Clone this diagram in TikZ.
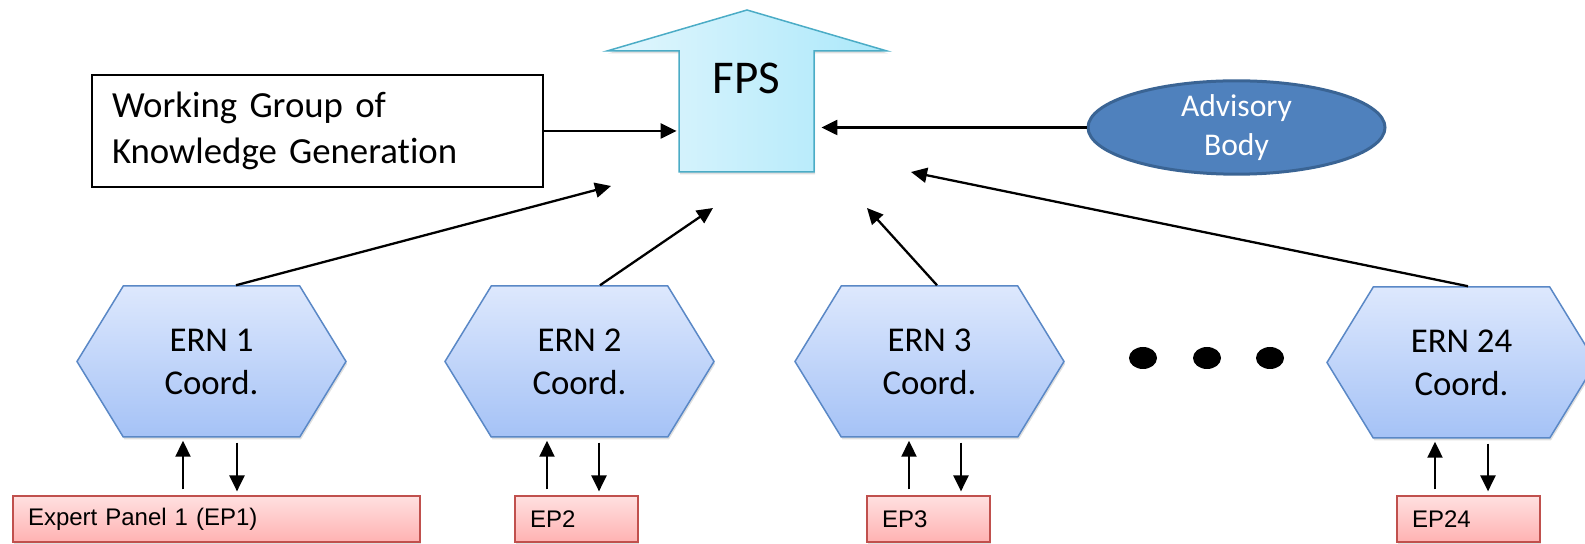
\documentclass[tikz,border=0pt]{standalone}
\usepackage{fontspec}
\setmainfont{Carlito}[Ligatures=NoCommon]
\newfontfamily\arialfont{Liberation Sans}
\usetikzlibrary{shapes.symbols,shapes.geometric,arrows.meta,shadows}

\definecolor{fpsleft}{HTML}{E2F6FD}
\definecolor{fpsright}{HTML}{ABE8FA}
\definecolor{fpsline}{HTML}{4BACC6}
\definecolor{erntop}{HTML}{DDE8FD}
\definecolor{ernbottom}{HTML}{A5C2F6}
\definecolor{ernline}{HTML}{5A88C6}
\definecolor{eptop}{HTML}{FFE0E0}
\definecolor{epbottom}{HTML}{FFB2B2}
\definecolor{epline}{HTML}{C0504D}
\definecolor{abfill}{HTML}{4F81BD}
\definecolor{abline}{HTML}{3A6494}

\begin{document}
\begin{tikzpicture}[x=0.5pt, y=-0.5pt,
  flow/.style={line width=1.15pt, -{Triangle[length=8pt, width=7.5pt]}},
  softshadow/.style={drop shadow={opacity=0.25, shadow xshift=0.6pt, shadow yshift=-1.2pt}},
  ern/.style={signal, signal to=west and east, signal pointer angle=117,
    minimum width=134.5pt, minimum height=75.5pt, inner sep=0pt,
    draw=ernline, line width=0.75pt, top color=erntop, bottom color=ernbottom,
    softshadow, align=center, font=\fontsize{17.4}{21.5}\selectfont},
  ep/.style={rectangle, draw=epline, line width=0.6pt, top color=eptop, bottom color=epbottom,
    minimum height=23pt, inner xsep=7.5pt, inner ysep=0pt, align=left,
    softshadow, font=\arialfont\fontsize{12}{14}\selectfont},
  dot/.style={ellipse, fill=black, minimum width=14pt, minimum height=11pt, inner sep=0pt}]

\clip (0,0) rectangle (1585,544);

% the big arrow
\path[draw=fpsline, line width=0.75pt, left color=fpsleft, right color=fpsright, softshadow]
  (679,172) -- (679,51) -- (607,51) -- (747,10) -- (887,51) -- (814,51) -- (814,172) -- cycle;
\node (fps) [minimum width=67.5pt, minimum height=60.5pt, inner sep=0pt,
  label={[font=\fontsize{23.5}{28}\selectfont, anchor=north, inner sep=0pt, yshift=-6pt]north:FPS}]
  at (746.5,111.5) {};

\node (wg) [draw, line width=0.6pt, minimum width=225.5pt, minimum height=56pt,
  text width=205.5pt, inner xsep=10pt, align=left, font=\fontsize{18.4}{23}\selectfont]
  at (317.5,131) {Working Group of\\Knowledge Generation};

\node (ab) [ellipse, fill=abfill, draw=abline, line width=1.5pt, minimum width=148.5pt,
  minimum height=44.5pt, inner sep=0pt, text=white, align=center,
  font=\fontsize{15.8}{19.5}\selectfont] at (1236.5,127.5) {Advisory\\Body};

\draw[flow, shorten >=1pt] (wg.east) -- (wg.east -| fps.west);
\draw[flow, shorten >=3.5pt] (ab.west) -- (ab.west -| fps.east);

% coordinators
\node (ern1) [ern] at (211.5,361.5) {ERN 1\\Coord.};
\node (ern2) [ern] at (579.5,361.5) {ERN 2\\Coord.};
\node (ern3) [ern] at (929.5,361.5) {ERN 3\\Coord.};
\node (ern24) [ern] at (1461.5,362.5) {ERN 24\\Coord.};

\node (dot1) [dot] at (1143,358) {};
\node (dot2) [dot] at (1207,358) {};
\node (dot3) [dot] at (1270,358) {};

% expert panels
\node (ep1) [ep, text width=188.5pt] at (216.5,519) {Expert Panel 1 (EP1)};
\node (ep2) [ep, text width=46.5pt] at (576.5,519) {EP2};
\node (ep3) [ep, text width=46.5pt] at (928.5,519) {EP3};
\node (ep24) [ep, text width=56.5pt] at (1468.5,519) {EP24};

\coordinate (t1) at (611,186);
\coordinate (t2) at (713,208);
\coordinate (t3) at (867,208);
\coordinate (t24) at (911,172);

\draw[flow] ([xshift=12.25pt]ern1.north) -- (t1);
\draw[flow] ([xshift=10.25pt]ern2.north) -- (t2);
\draw[flow] ([xshift=3.75pt]ern3.north) -- (t3);
\draw[flow] ([xshift=3.25pt]ern24.north) -- (t24);

\foreach \n/\u/\d in {1/-28.5/25.5, 2/-32.5/19.5, 3/-20.5/31.5, 24/-26.5/26.5} {
  \coordinate (up\n) at ([xshift=\u*0.5pt]ern\n.south);
  \coordinate (dn\n) at ([xshift=\d*0.5pt]ern\n.south);
  \draw[flow, shorten <=3pt, shorten >=1.5pt] (up\n |- ep\n.north) -- (up\n);
  \draw[flow, shorten <=2.5pt, shorten >=2pt] (dn\n) -- (dn\n |- ep\n.north);
}
\end{tikzpicture}
\end{document}
